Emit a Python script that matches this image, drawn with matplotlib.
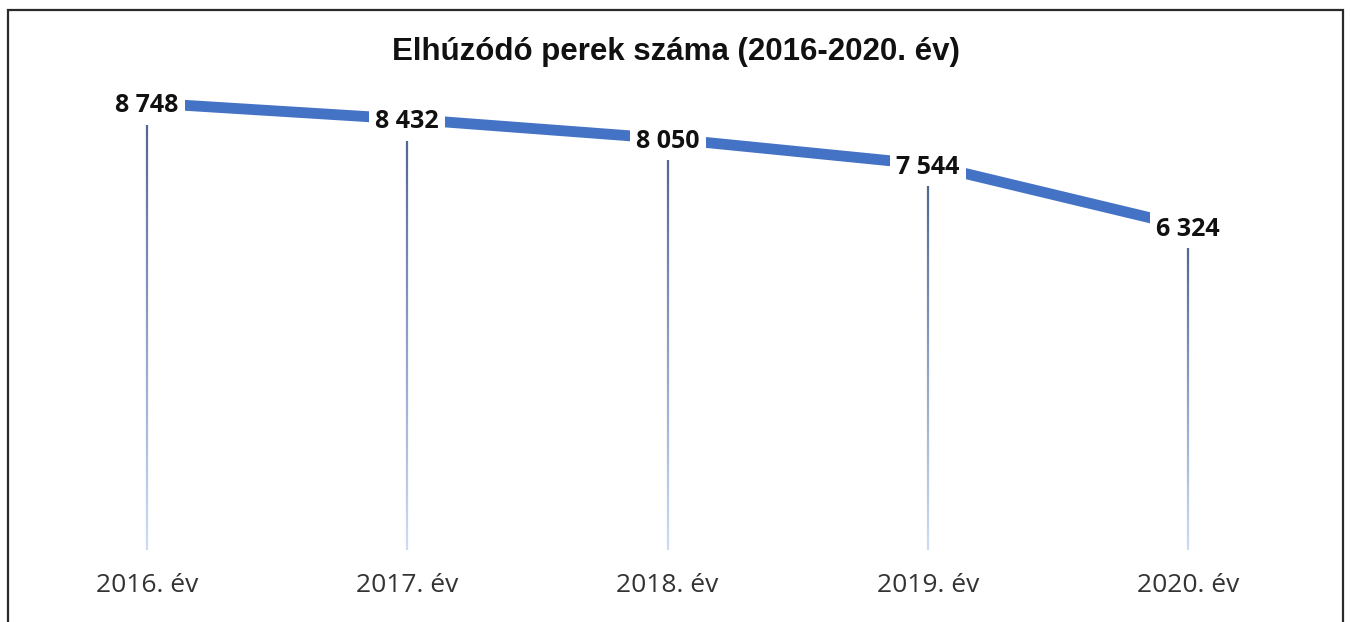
import numpy as np
import matplotlib
matplotlib.use("Agg")
import matplotlib.pyplot as plt
from matplotlib.collections import LineCollection
from matplotlib.colors import to_rgb

categories = ["2016. év", "2017. év", "2018. év", "2019. év", "2020. év"]
values = [8748, 8432, 8050, 7544, 6324]
value_labels = ["8 748", "8 432", "8 050", "7 544", "6 324"]
title = "Elhúzódó perek száma (2016-2020. év)"

fig = plt.figure(figsize=(13.5, 6.22), dpi=100)
fig.patch.set_facecolor("white")

# outer border (left, top, right)
W, H = 1350, 622
bx0, bx1, by_top = 8 / W, 1343 / W, 1 - 10 / H
fig.add_artist(plt.Line2D([bx0, bx0, bx1, bx1], [0, by_top, by_top, 0],
                          transform=fig.transFigure, color="#2a2a2a", lw=1.6,
                          solid_joinstyle="miter"))

ax = fig.add_axes([17 / W, 1 - 550 / H, (1318 - 17) / W, (550 - 39) / H])
ax.set_xlim(-0.5, len(categories) - 0.5)
ax.set_ylim(0, 10000)
ax.axis("off")

x = np.arange(len(categories))

# gradient drop lines
top_c = np.array(to_rgb("#4a6290"))
bot_c = np.array(to_rgb("#cddcf6"))
n = 120
for xi, v in zip(x, values):
    ys = np.linspace(v, 0, n + 1)
    segs = [[(xi, ys[i]), (xi, ys[i + 1])] for i in range(n)]
    t = np.linspace(0, 1, n)[:, None]
    cols = top_c * (1 - t) + bot_c * t
    ax.add_collection(LineCollection(segs, colors=cols, linewidths=1.6, zorder=1))

ax.plot(x, values, color="#4472C4", lw=7.8, solid_capstyle="butt", zorder=2)

for xi, v, lab in zip(x, values, value_labels):
    ax.annotate(lab, (xi, v), xytext=(0, -2), textcoords="offset points",
                ha="center", va="center", fontsize=18, fontweight="bold",
                family="Open Sans", color="#111111", zorder=3,
                bbox=dict(boxstyle="square,pad=0.25", fc="white", ec="none"))

for xi, c in zip(x, categories):
    fig.text((17 + 260.25 * (xi + 0.5)) / W, 1 - 585 / H, c, ha="center", va="center",
             fontsize=19, family="Open Sans", color="#333333")

fig.text(676 / W, 1 - 52 / H, title, ha="center", va="center", fontsize=22.5,
         fontweight="bold", family="Liberation Sans", color="#111111")

fig.savefig("out.png", dpi=100, facecolor="white")
